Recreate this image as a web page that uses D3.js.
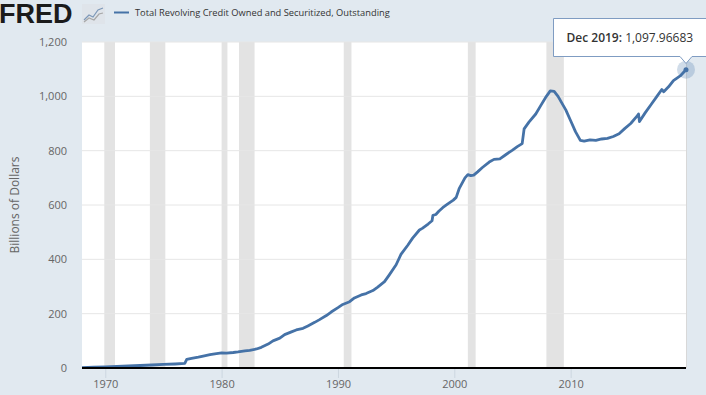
<!DOCTYPE html>
<html>
<head>
<meta charset="utf-8">
<script src="https://cdn.jsdelivr.net/npm/d3@7"></script>
<style>
  body { margin: 0; background: #e1e9f0; }
  svg { display: block; font-family: "Open Sans", sans-serif; }
</style>
</head>
<body>
<script>
// series (billions of dollars)
var months = [
  "1968-01","1969-01","1970-01","1971-01","1972-01","1973-01","1974-01","1975-01","1976-01","1976-11",
  "1977-01","1977-06","1978-01","1978-06","1979-01","1979-06","1980-01","1980-06","1981-01","1981-06",
  "1982-01","1982-06","1983-01","1983-06","1984-01","1984-06","1985-01","1985-06","1986-01","1986-06",
  "1987-01","1987-06","1988-01","1988-06","1989-01","1989-06","1990-01","1990-06","1991-01","1991-06",
  "1992-01","1992-06","1993-01","1993-06","1994-01","1994-06","1995-01","1995-06","1996-01","1996-06",
  "1997-01","1997-04","1997-10","1998-02","1998-03","1998-06","1998-09","1999-01","1999-06","1999-12",
  "2000-03","2000-06","2000-12","2001-03","2001-06","2001-09","2002-01","2002-06","2003-01","2003-06",
  "2003-12","2004-06","2005-01","2005-06","2005-11","2006-01","2006-06","2007-01","2007-06","2007-12",
  "2008-04","2008-08","2008-12","2009-04","2009-08","2010-01","2010-06","2010-11","2011-03","2011-09",
  "2012-03","2012-09","2013-03","2013-09","2014-03","2014-09","2015-03","2015-09","2015-11","2015-12",
  "2016-06","2016-12","2017-06","2017-11","2018-01","2018-06","2018-11","2019-06","2019-12"
];
var values = [
  1.4, 2.8, 4.5, 6.0, 7.5, 9.2, 11.0, 13.0, 14.8, 17.0,
  31.5, 35.5, 40, 44, 49, 52, 55.5, 55, 57, 59,
  63, 65, 70, 76, 88, 100, 110, 123, 133, 140,
  146, 155, 168, 178, 193, 206, 222, 234, 244, 258,
  269, 274, 285, 298, 318, 343, 380, 418, 452, 478,
  508, 514, 530, 542, 562, 565, 577, 590, 603, 618,
  628, 660, 700, 712, 708, 710, 722, 738, 758, 768,
  770, 785, 802, 815, 826, 880, 905, 935, 965, 1000,
  1020, 1018, 1000, 975, 950, 910, 870, 838, 835, 840,
  838, 843, 845, 852, 862, 882, 900, 925, 935, 907,
  940, 970, 1000, 1025, 1017, 1035, 1058, 1075, 1097.96683
];
var recStart = ["1969-12","1973-11","1980-01","1981-07","1990-07","2001-03","2007-12"];
var recEnd   = ["1970-11","1975-03","1980-07","1982-11","1991-03","2001-11","2009-06"];
var yTicks = [0, 200, 400, 600, 800, 1000, 1200];
var xTickYears = [1970, 1980, 1990, 2000, 2010];
var seriesName = "Total Revolving Credit Owned and Securitized, Outstanding";

var W = 706, H = 395;
var m = {left: 82, right: 20, top: 42, bottom: 27};
var parse = d3.timeParse("%Y-%m");
var data = months.map(function(d, i){ return {date: parse(d), value: values[i]}; });

var x = d3.scaleTime()
    .domain([parse("1968-01"), parse("2019-12")])
    .range([m.left, W - m.right]);
var y = d3.scaleLinear()
    .domain([0, 1200])
    .range([H - m.bottom, m.top]);

var svg = d3.select("body").append("svg")
    .attr("width", W)
    .attr("height", H);

svg.append("rect")
    .attr("x", m.left).attr("y", m.top)
    .attr("width", W - m.left - m.right).attr("height", H - m.top - m.bottom)
    .attr("fill", "#fff");

// recession shading
svg.append("g").selectAll("rect")
    .data(recStart)
    .enter().append("rect")
    .attr("x", function(d){ return x(parse(d)); })
    .attr("width", function(d, i){ return x(parse(recEnd[i])) - x(parse(d)); })
    .attr("y", m.top)
    .attr("height", H - m.top - m.bottom)
    .attr("fill", "#e3e3e3");

// grid
svg.append("g").selectAll("line")
    .data(yTicks.slice(1))
    .enter().append("line")
    .attr("x1", m.left).attr("x2", W - m.right)
    .attr("y1", function(d){ return y(d); }).attr("y2", function(d){ return y(d); })
    .attr("stroke", "#e6e6e6");

svg.append("line")
    .attr("x1", W - m.right + 0.5).attr("x2", W - m.right + 0.5)
    .attr("y1", m.top).attr("y2", H - m.bottom)
    .attr("stroke", "#d8d8d8");

// y axis labels
var yAxis = d3.axisLeft(y).tickValues(yTicks).tickSize(0).tickPadding(15)
    .tickFormat(d3.format(","));
var gy = svg.append("g").attr("transform", "translate(" + m.left + ",0)").call(yAxis);
gy.select(".domain").remove();
gy.selectAll("text").attr("font-size", 11).attr("fill", "#666")
    .attr("font-family", "Open Sans, sans-serif");

svg.append("text")
    .attr("transform", "translate(19," + ((m.top + H - m.bottom) / 2) + ") rotate(-90)")
    .attr("text-anchor", "middle")
    .attr("font-size", 12)
    .attr("fill", "#666")
    .text("Billions of Dollars");

// x axis
var xAxis = d3.axisBottom(x)
    .tickValues(xTickYears.map(function(d){ return new Date(d, 0, 1); }))
    .tickSize(10).tickPadding(2)
    .tickFormat(d3.timeFormat("%Y"));
var gx = svg.append("g").attr("transform", "translate(0," + (H - m.bottom) + ")").call(xAxis);
gx.select(".domain").remove();
gx.selectAll("line").attr("stroke", "#ccd6e0");
gx.selectAll("text").attr("font-size", 11).attr("fill", "#666")
    .attr("font-family", "Open Sans, sans-serif");

// line
var line = d3.line()
    .x(function(d){ return x(d.date); })
    .y(function(d){ return y(d.value); });

svg.append("path")
    .datum(data)
    .attr("d", line)
    .attr("fill", "none")
    .attr("stroke", "#4572a7")
    .attr("stroke-width", 2.8)
    .attr("stroke-linejoin", "round");

svg.append("line")
    .attr("x1", m.left).attr("x2", W - m.right)
    .attr("y1", y(0)).attr("y2", y(0))
    .attr("stroke", "#000").attr("stroke-width", 2);

// last point with tooltip
var last = data[data.length - 1];
var px = x(last.date), py = y(last.value);
svg.append("circle").attr("cx", px).attr("cy", py).attr("r", 9)
    .attr("fill", "#4572a7").attr("fill-opacity", 0.25);
svg.append("circle").attr("cx", px).attr("cy", py).attr("r", 2.5)
    .attr("fill", "#4572a7");

var tip = svg.append("g");
var bx = 553.5, by = 18.5, bw = 153, bh = 38;
tip.append("path")
    .attr("d", "M" + bx + "," + by + "h" + bw + "v" + bh + "h" + (-(bx + bw - px) + 6) +
        "l-6,7l-6,-7H" + bx + "Z")
    .attr("fill", "#fff")
    .attr("stroke", "#7f9cc2")
    .attr("stroke-width", 1);
var tt = tip.append("text").attr("x", bx + 13).attr("y", by + 23)
    .attr("font-size", 12).attr("fill", "#333");
tt.append("tspan").attr("font-weight", 600)
    .text(d3.timeFormat("%b %Y")(last.date) + ":");
tt.append("tspan").text(" " + d3.format(",.5f")(last.value));

// header: logo and legend
svg.append("text")
    .attr("x", -1).attr("y", 23)
    .attr("font-family", "Liberation Sans, Arial, sans-serif")
    .attr("font-weight", "bold")
    .attr("font-size", 27)
    .attr("letter-spacing", 0)
    .attr("fill", "#1b1b1b")
    .text("FRED");
svg.append("rect").attr("x", 82).attr("y", 4).attr("width", 23).attr("height", 20)
    .attr("fill", "#dfe4ea");
svg.append("polyline").attr("points", "84,20 89,15 93,17 98,10 103,8")
    .attr("fill", "none").attr("stroke", "#7d98b8").attr("stroke-width", 1.2);
svg.append("polyline").attr("points", "84,22 89,18 94,20 99,14 103,13")
    .attr("fill", "none").attr("stroke", "#a7a7a7").attr("stroke-width", 1.2);

svg.append("line").attr("x1", 114).attr("x2", 129).attr("y1", 12.5).attr("y2", 12.5)
    .attr("stroke", "#4572a7").attr("stroke-width", 2);
svg.append("text").attr("x", 135).attr("y", 15.5)
    .attr("font-size", 9.3).attr("fill", "#333")
    .text(seriesName);
</script>
</body>
</html>
